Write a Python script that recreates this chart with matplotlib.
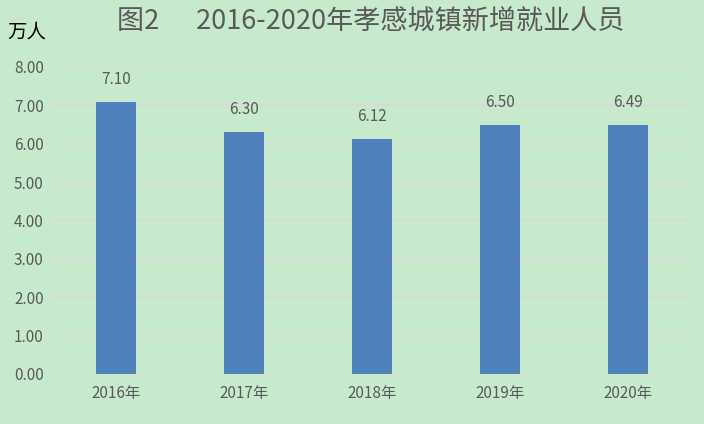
import matplotlib.pyplot as plt
import numpy as np

plt.rcParams['font.family'] = ['Noto Sans CJK SC', 'DejaVu Sans']

years = ['2016年', '2017年', '2018年', '2019年', '2020年']
jobs = [7.10, 6.30, 6.12, 6.50, 6.49]
yticks = [0, 1, 2, 3, 4, 5, 6, 7, 8]

bg = '#c8eacc'
txt = '#595959'

fig = plt.figure(figsize=(7.04, 4.24), dpi=100, facecolor=bg)
ax = fig.add_axes([0.074, 0.118, 0.909, 0.724], facecolor=bg)

x = np.arange(len(years))
bars = ax.bar(x, jobs, width=0.31, color='#4f81bd', zorder=3)
ax.bar_label(bars, labels=['%.2f' % v for v in jobs], padding=10, fontsize=11, color=txt)

ax.set_xlim(-0.5, len(years) - 0.5)
ax.set_ylim(0, 8)
ax.set_yticks(yticks, ['%.2f' % v for v in yticks])
ax.set_xticks(x, years)
ax.tick_params(axis='both', length=0, labelsize=11, labelcolor=txt)
ax.tick_params(axis='x', pad=8)
ax.tick_params(axis='y', pad=6)
ax.grid(axis='y', color='#d9d9d9', linewidth=1.5, zorder=0)
for s in ax.spines.values():
    s.set_visible(False)

fig.text(0.526, 0.948, '图2      2016-2020年孝感城镇新增就业人员', ha='center', va='center',
         fontsize=19.5, color=txt)
fig.text(0.011, 0.925, '万人', ha='left', va='center', fontsize=14, color='black')

fig.savefig('out.png', dpi=100, facecolor=bg)
